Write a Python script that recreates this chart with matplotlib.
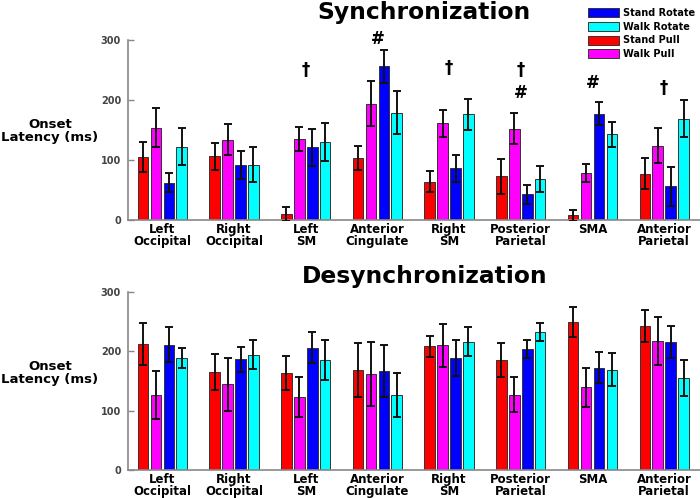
import matplotlib
matplotlib.use("Agg")
import matplotlib.pyplot as plt
import numpy as np

regions = ["Left\nOccipital", "Right\nOccipital", "Left\nSM", "Anterior\nCingulate",
           "Right\nSM", "Posterior\nParietal", "SMA", "Anterior\nParietal"]
conditions = ["Stand Pull", "Walk Pull", "Stand Rotate", "Walk Rotate"]
colors = ["#ff0000", "#ff00ff", "#0000ff", "#00ffff"]
legend_order = ["Stand Rotate", "Walk Rotate", "Stand Pull", "Walk Pull"]

# Synchronization onset latency (ms): mean and error per condition
sync_mean = {
    "Stand Pull":   [105, 106, 10, 103, 64, 73, 8, 77],
    "Walk Pull":    [154, 134, 135, 194, 161, 152, 78, 124],
    "Stand Rotate": [62, 92, 121, 256, 86, 43, 177, 56],
    "Walk Rotate":  [122, 92, 130, 179, 176, 68, 143, 169],
}
sync_err = {
    "Stand Pull":   [25, 22, 12, 20, 18, 29, 9, 26],
    "Walk Pull":    [32, 26, 20, 37, 22, 26, 15, 29],
    "Stand Rotate": [16, 23, 31, 27, 22, 16, 19, 33],
    "Walk Rotate":  [31, 29, 31, 36, 26, 22, 21, 31],
}
# Desynchronization onset latency (ms)
desync_mean = {
    "Stand Pull":   [212, 165, 163, 168, 208, 185, 249, 242],
    "Walk Pull":    [126, 144, 123, 161, 210, 127, 139, 217],
    "Stand Rotate": [211, 186, 206, 166, 189, 203, 172, 215],
    "Walk Rotate":  [189, 194, 185, 127, 216, 232, 169, 155],
}
desync_err = {
    "Stand Pull":   [35, 31, 29, 45, 18, 28, 26, 27],
    "Walk Pull":    [41, 45, 34, 54, 36, 30, 33, 41],
    "Stand Rotate": [29, 21, 26, 44, 30, 15, 26, 27],
    "Walk Rotate":  [17, 24, 33, 37, 24, 15, 28, 30],
}

# significance markers on the synchronization panel: (group index, symbol, y level)
sig_groups = [2, 3, 4, 5, 5, 6, 7]
sig_symbols = ["\u2020", "#", "\u2020", "\u2020", "#", "#", "\u2020"]
sig_levels = [250, 302, 253, 250, 212, 228, 220]

yticks = [0, 100, 200, 300]

W, H = 700, 498
fig = plt.figure(figsize=(W / 100, H / 100), dpi=100)

left = 128 / W
width = 1 - left
ax_top = fig.add_axes([left, (H - 220) / H, width, 180 / H])
ax_bot = fig.add_axes([left, (H - 470) / H, width, 178.3 / H])

x = np.arange(1, len(regions) + 1)
step = 0.18
bw = 0.148
offsets = [-1.5, -0.5, 0.5, 1.5]

def draw(ax, means, errs):
    handles = {}
    for cond, col, off in zip(conditions, colors, offsets):
        b = ax.bar(x + off * step, means[cond], width=bw, color=col,
                   edgecolor="#333333", linewidth=0.7, label=cond, zorder=2)
        ax.errorbar(x + off * step, means[cond], yerr=errs[cond], fmt="none",
                    ecolor="#111111", elinewidth=1.4, capsize=3, capthick=1.4, zorder=3)
        handles[cond] = b
    ax.set_xlim(0.52, 8.5)
    ax.set_ylim(0, 300)
    ax.set_yticks(yticks)
    ax.set_yticklabels([str(t) for t in yticks], fontsize=7, fontweight="bold", color="#444444")
    ax.tick_params(axis="y", direction="in", length=4, width=1, color="#888888", pad=5)
    ax.set_xticks(x)
    ax.set_xticklabels(regions, fontsize=8.5, fontweight="bold", linespacing=0.95)
    ax.tick_params(axis="x", length=0, pad=2)
    for s in ["top", "right"]:
        ax.spines[s].set_visible(False)
    for s in ["left", "bottom"]:
        ax.spines[s].set_color("#888888")
        ax.spines[s].set_linewidth(1.2)
    return handles

h = draw(ax_top, sync_mean, sync_err)
draw(ax_bot, desync_mean, desync_err)

for g, sym, lv in zip(sig_groups, sig_symbols, sig_levels):
    ax_top.text(x[g], lv, sym, ha="center", va="center", fontsize=12,
                fontweight="bold", clip_on=False)

fig.text(424 / W, 1 - 19.5 / H, "Synchronization", ha="center", va="baseline",
         fontsize=16.8, fontweight="bold")
fig.text(425 / W, 1 - 283 / H, "Desynchronization", ha="center", va="baseline",
         fontsize=16.8, fontweight="bold")

for yc in [131, 373]:
    fig.text(50 / W, 1 - yc / H, "Onset\nLatency (ms)", ha="center", va="center",
             fontsize=9.5, fontweight="bold", multialignment="center", linespacing=1.0)

leg = fig.legend([h[c] for c in legend_order], legend_order,
                 loc="upper left", bbox_to_anchor=(588 / W, 1 - 8 / H),
                 frameon=False, prop={"size": 7, "weight": "bold"},
                 handlelength=3.2, handleheight=1.05, handletextpad=0.45,
                 labelspacing=0.38, borderpad=0, borderaxespad=0)

fig.savefig("out.png", dpi=100)
